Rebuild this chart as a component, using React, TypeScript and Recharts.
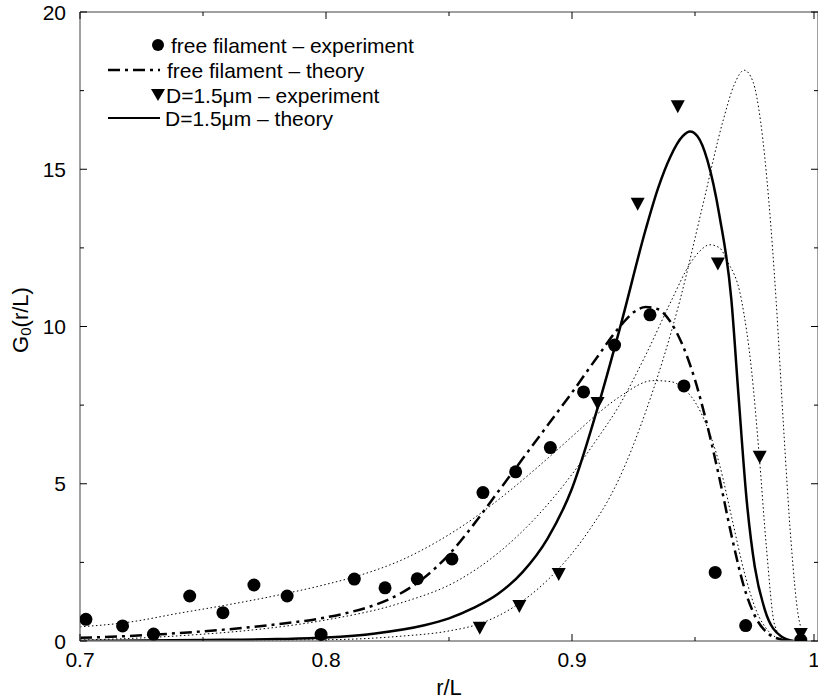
import { ComposedChart, Line, Scatter, XAxis, YAxis, ReferenceLine } from "recharts";

// free filament – experiment (circles)
const freeExpX = [0.7024, 0.7173, 0.7299, 0.7446, 0.7581, 0.7707, 0.7842, 0.798, 0.8115, 0.824, 0.8371, 0.8512, 0.8638, 0.8771, 0.8912, 0.9047, 0.9173, 0.9317, 0.9455, 0.9582, 0.9706, 0.993];
const freeExpY = [0.69, 0.48, 0.22, 1.43, 0.9, 1.78, 1.43, 0.21, 1.97, 1.69, 1.98, 2.61, 4.72, 5.38, 6.15, 7.92, 9.41, 10.37, 8.11, 2.18, 0.49, 0.03];

// D=1.5µm – experiment (triangles)
const dExpX = [0.8625, 0.8786, 0.8946, 0.9104, 0.9267, 0.943, 0.9593, 0.9763, 0.993];
const dExpY = [0.42, 1.11, 2.13, 7.57, 13.9, 17.0, 12.0, 5.86, 0.22];

// free filament – theory (dash-dot)
const freeThX = [0.7, 0.72, 0.74, 0.76, 0.78, 0.8, 0.81, 0.82, 0.83, 0.84, 0.85, 0.86, 0.87, 0.88, 0.89, 0.9, 0.91, 0.92, 0.925, 0.93, 0.935, 0.94, 0.945, 0.95, 0.955, 0.96, 0.965, 0.97, 0.975, 0.98, 0.985, 0.99];
const freeThY = [0.1, 0.16, 0.25, 0.37, 0.53, 0.75, 0.92, 1.15, 1.5, 2.02, 2.75, 3.7, 4.75, 5.8, 6.85, 7.9, 9.0, 10.05, 10.45, 10.62, 10.55, 10.15, 9.4, 8.3, 6.85, 5.15, 3.3, 1.7, 0.7, 0.22, 0.05, 0];

// D=1.5µm – theory (solid)
const dThX = [0.7, 0.75, 0.78, 0.8, 0.82, 0.84, 0.85, 0.86, 0.87, 0.88, 0.89, 0.9, 0.91, 0.92, 0.93, 0.935, 0.94, 0.945, 0.948, 0.951, 0.955, 0.96, 0.9648, 0.9676, 0.971, 0.9743, 0.9784, 0.9851, 0.99];
const dThY = [0, 0.03, 0.06, 0.11, 0.24, 0.5, 0.72, 1.05, 1.5, 2.2, 3.25, 4.85, 7.3, 10.1, 13.1, 14.4, 15.4, 16.05, 16.2, 16.05, 15.3, 13.5, 10.84, 7.9, 4.48, 2.36, 0.99, 0.14, 0];

// thin dotted curves
const dotAX = [0.7, 0.72, 0.74, 0.76, 0.78, 0.8, 0.815, 0.83, 0.845, 0.86, 0.875, 0.89, 0.9, 0.91, 0.92, 0.933, 0.94, 0.945, 0.95, 0.955, 0.96, 0.965, 0.97, 0.975, 0.98, 0.985];
const dotAY = [0.45, 0.6, 0.88, 1.15, 1.45, 1.8, 2.12, 2.55, 3.15, 3.9, 4.8, 5.8, 6.5, 7.2, 7.8, 8.28, 8.25, 8.05, 7.6, 6.8, 5.6, 3.9, 2.2, 0.95, 0.3, 0.05];

const dotBX = [0.7, 0.72, 0.745, 0.77, 0.8, 0.83, 0.854, 0.87, 0.885, 0.9, 0.91, 0.9189, 0.93, 0.9405, 0.948, 0.952, 0.956, 0.96, 0.963, 0.9689, 0.973, 0.976, 0.979, 0.9824, 0.986];
const dotBY = [0.03, 0.08, 0.19, 0.35, 0.67, 1.2, 1.94, 2.8, 3.9, 5.3, 6.4, 7.45, 9.1, 10.84, 12.0, 12.4, 12.6, 12.5, 12.1, 10.84, 8.6, 6.0, 3.0, 0.5, 0.05];

const dotCX = [0.7, 0.8, 0.83, 0.85, 0.8625, 0.8786, 0.8946, 0.905, 0.9189, 0.93, 0.9439, 0.953, 0.9615, 0.966, 0.97, 0.9735, 0.9767, 0.98, 0.983, 0.986, 0.989, 0.992, 0.995];
const dotCY = [0, 0.04, 0.15, 0.32, 0.55, 1.2, 2.3, 3.3, 5.12, 7.3, 10.84, 13.8, 16.57, 17.7, 18.15, 17.8, 16.5, 14.0, 10.8, 6.8, 3.2, 0.8, 0.1];

const xTicks = [0.7, 0.75, 0.8, 0.85, 0.9, 0.95, 1.0];
const yTicks = [0, 2.5, 5, 7.5, 10, 12.5, 15, 17.5, 20];

const pts = (xs: number[], ys: number[]) => xs.map((x, i) => ({ x, y: ys[i] }));

const W = 818;
const H = 700;
const LEFT = 80;
const TOP = 12;
const BOTTOM = 641;
const FONT = '"Liberation Sans", Arial, Helvetica, sans-serif';
const AXIS = "#808080";

const isMajor = (v: number, step: number) => Math.abs(v / step - Math.round(v / step)) < 1e-6;

const XTick = (props: any) => {
  const { x, payload } = props;
  const v = payload.value;
  const major = isMajor(v, 0.1);
  const len = major ? 7 : 4;
  return (
    <g>
      <line x1={x} y1={BOTTOM} x2={x} y2={BOTTOM - len} stroke="#000" strokeWidth={1} />
      <line x1={x} y1={TOP} x2={x} y2={TOP + len} stroke="#000" strokeWidth={1} />
      {major && (
        <text x={x} y={667} textAnchor="middle" fontSize={21} fontFamily={FONT} fill="#000">
          {v === 1 ? "1" : v.toFixed(1)}
        </text>
      )}
    </g>
  );
};

const YTick = (props: any) => {
  const { y, payload } = props;
  const v = payload.value;
  const major = isMajor(v, 5);
  const len = major ? 7 : 4;
  return (
    <g>
      <line x1={LEFT} y1={y} x2={LEFT + len} y2={y} stroke="#000" strokeWidth={1} />
      <line x1={W} y1={y} x2={W - len} y2={y} stroke="#000" strokeWidth={1} />
      {major && (
        <text x={66} y={y} dy="0.36em" textAnchor="end" fontSize={21} fontFamily={FONT} fill="#000">
          {v}
        </text>
      )}
    </g>
  );
};

const Circle = (props: any) => {
  const { cx, cy } = props;
  return <circle cx={cx} cy={cy} r={6.5} fill="#000" />;
};

const Tri = (props: any) => {
  const { cx, cy } = props;
  return <polygon points={`${cx - 7},${cy - 6} ${cx + 7},${cy - 6} ${cx},${cy + 7}`} fill="#000" />;
};

const YTitle = () => (
  <text
    x={20}
    y={320}
    transform="rotate(-90, 20, 320)"
    textAnchor="middle"
    dominantBaseline="central"
    fontSize={22}
    fontFamily={FONT}
    fill="#000"
  >
    G<tspan dy={5} fontSize={15}>0</tspan>
    <tspan dy={-5}>(r/L)</tspan>
  </text>
);

const DASHDOT = "12 5 3 5";
const DOTTED = "1.5 2.5";

const LegendBox = () => (
  <svg width={500} height={140} style={{ position: "absolute", left: 0, top: 0 }}>
    <g fontFamily={FONT} fontSize={21} fill="#000">
      <circle cx={158} cy={45} r={6} fill="#000" />
      <text x={171} y={45} dominantBaseline="central">free filament – experiment</text>
      <line x1={108} y1={70} x2={160} y2={70} stroke="#000" strokeWidth={2.5} strokeDasharray={DASHDOT} />
      <text x={167} y={70} dominantBaseline="central">free filament – theory</text>
      <polygon points="151,89 165,89 158,101" fill="#000" />
      <text x={166} y={95} dominantBaseline="central">D=1.5μm – experiment</text>
      <line x1={108} y1={118} x2={160} y2={118} stroke="#000" strokeWidth={2} />
      <text x={165} y={118} dominantBaseline="central">D=1.5μm – theory</text>
    </g>
  </svg>
);

export default function App() {
  return (
    <div style={{ position: "absolute", left: 0, top: 0, width: W, height: H, background: "#fff" }}>
      <ComposedChart width={W} height={H} margin={{ top: TOP, right: 0, bottom: 0, left: 0 }}>
        <XAxis
          dataKey="x"
          type="number"
          domain={[0.7, 1.0]}
          ticks={xTicks}
          allowDataOverflow
          height={H - BOTTOM}
          tickSize={0}
          tickMargin={0}
          tickLine={false}
          tick={<XTick />}
          axisLine={{ stroke: AXIS, strokeWidth: 1.5 }}
          label={{ value: "r/L", position: "insideBottom", offset: 5, fontSize: 22, fill: "#000", fontFamily: FONT }}
        />
        <YAxis
          dataKey="y"
          type="number"
          domain={[0, 20]}
          ticks={yTicks}
          allowDataOverflow
          width={LEFT}
          tickSize={0}
          tickMargin={0}
          tickLine={false}
          tick={<YTick />}
          axisLine={{ stroke: AXIS, strokeWidth: 1.5 }}
          label={{ content: () => <YTitle /> }}
        />
        <ReferenceLine y={20} stroke={AXIS} strokeWidth={1.5} />
        <ReferenceLine x={1.0} stroke={AXIS} strokeWidth={1.5} />

        <Line data={pts(dotAX, dotAY)} dataKey="y" type="monotone" stroke="#000" strokeWidth={1} strokeDasharray={DOTTED} dot={false} isAnimationActive={false} />
        <Line data={pts(dotBX, dotBY)} dataKey="y" type="monotone" stroke="#000" strokeWidth={1} strokeDasharray={DOTTED} dot={false} isAnimationActive={false} />
        <Line data={pts(dotCX, dotCY)} dataKey="y" type="monotone" stroke="#000" strokeWidth={1} strokeDasharray={DOTTED} dot={false} isAnimationActive={false} />
        <Line data={pts(freeThX, freeThY)} dataKey="y" type="monotone" stroke="#000" strokeWidth={2.5} strokeDasharray={DASHDOT} dot={false} isAnimationActive={false} />
        <Line data={pts(dThX, dThY)} dataKey="y" type="monotone" stroke="#000" strokeWidth={2.5} dot={false} isAnimationActive={false} />

        <Scatter data={pts(freeExpX, freeExpY)} dataKey="y" shape={<Circle />} isAnimationActive={false} />
        <Scatter data={pts(dExpX, dExpY)} dataKey="y" shape={<Tri />} isAnimationActive={false} />
      </ComposedChart>
      <LegendBox />
    </div>
  );
}
